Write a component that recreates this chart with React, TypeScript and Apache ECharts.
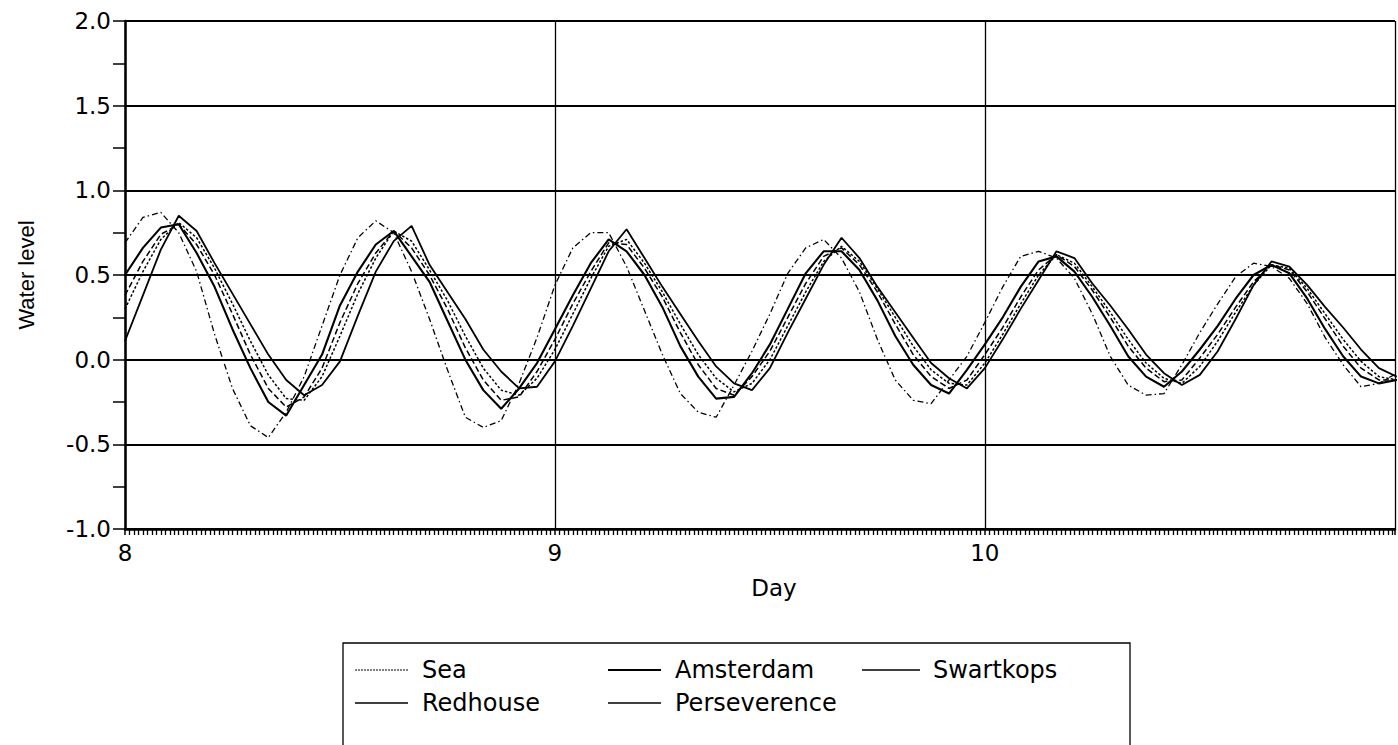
import React, { useEffect, useRef } from "react";
import * as echarts from "echarts";

// Hourly readings, hour 0 = start of day 8
const hours = Array.from({ length: 72 }, (_, i) => i);

const sea = [
  0.69, 0.84, 0.87, 0.75, 0.52, 0.15, -0.17, -0.39, -0.46, -0.31,
  -0.10, 0.20, 0.50, 0.72, 0.82, 0.75, 0.52, 0.24, -0.06, -0.34,
  -0.40, -0.36, -0.14, 0.13, 0.44, 0.66, 0.75, 0.75, 0.55, 0.29,
  0.03, -0.20, -0.31, -0.34, -0.15, 0.05, 0.27, 0.51, 0.66, 0.71,
  0.60, 0.40, 0.12, -0.12, -0.24, -0.26, -0.12, 0.02, 0.22, 0.43,
  0.61, 0.64, 0.60, 0.48, 0.27, 0.02, -0.15, -0.21, -0.20, -0.03,
  0.16, 0.33, 0.49, 0.57, 0.55, 0.48, 0.33, 0.13, -0.03, -0.16,
  -0.14, -0.08,
];

const amsterdam = [
  0.50, 0.66, 0.78, 0.80, 0.63, 0.43, 0.18, -0.05, -0.25, -0.33,
  -0.15, 0.03, 0.32, 0.52, 0.68, 0.76, 0.61, 0.46, 0.23, 0.00,
  -0.18, -0.29, -0.17, -0.02, 0.18, 0.38, 0.57, 0.71, 0.64, 0.50,
  0.31, 0.08, -0.10, -0.23, -0.22, -0.08, 0.09, 0.30, 0.51, 0.64,
  0.64, 0.53, 0.35, 0.14, -0.03, -0.15, -0.20, -0.06, 0.09, 0.25,
  0.43, 0.58, 0.61, 0.52, 0.37, 0.20, 0.02, -0.10, -0.16, -0.07,
  0.06, 0.20, 0.36, 0.50, 0.56, 0.51, 0.36, 0.18, 0.02, -0.10,
  -0.14, -0.12,
];

const swartkops = [
  0.38, 0.58, 0.74, 0.80, 0.68, 0.50, 0.27, 0.03, -0.17, -0.28,
  -0.22, -0.05, 0.22, 0.45, 0.63, 0.76, 0.66, 0.50, 0.30, 0.07,
  -0.12, -0.24, -0.22, -0.07, 0.12, 0.33, 0.52, 0.69, 0.68, 0.54,
  0.37, 0.16, -0.03, -0.17, -0.21, -0.10, 0.05, 0.25, 0.45, 0.61,
  0.66, 0.56, 0.40, 0.21, 0.03, -0.10, -0.17, -0.12, 0.03, 0.19,
  0.37, 0.53, 0.62, 0.55, 0.41, 0.25, 0.08, -0.05, -0.13, -0.12,
  0.01, 0.15, 0.31, 0.46, 0.56, 0.53, 0.40, 0.24, 0.08, -0.05,
  -0.12, -0.12,
];

const redhouse = [
  0.30, 0.52, 0.71, 0.81, 0.72, 0.54, 0.33, 0.11, -0.09, -0.23,
  -0.24, -0.10, 0.14, 0.39, 0.60, 0.76, 0.70, 0.53, 0.35, 0.14,
  -0.05, -0.18, -0.21, -0.11, 0.06, 0.27, 0.48, 0.67, 0.71, 0.57,
  0.40, 0.21, 0.03, -0.11, -0.19, -0.14, 0.00, 0.20, 0.40, 0.58,
  0.67, 0.58, 0.42, 0.25, 0.08, -0.06, -0.14, -0.15, -0.02, 0.15,
  0.33, 0.50, 0.62, 0.57, 0.43, 0.28, 0.12, -0.02, -0.11, -0.14,
  -0.04, 0.11, 0.28, 0.44, 0.56, 0.54, 0.42, 0.27, 0.12, -0.01,
  -0.10, -0.12,
];

const perseverence = [
  0.11, 0.38, 0.65, 0.85, 0.76, 0.57, 0.39, 0.21, 0.03, -0.12,
  -0.21, -0.15, -0.01, 0.26, 0.52, 0.70, 0.79, 0.56, 0.40, 0.24,
  0.06, -0.07, -0.17, -0.16, -0.01, 0.20, 0.42, 0.64, 0.77, 0.60,
  0.43, 0.27, 0.11, -0.04, -0.14, -0.18, -0.05, 0.16, 0.36, 0.56,
  0.72, 0.60, 0.43, 0.28, 0.13, -0.02, -0.11, -0.17, -0.05, 0.12,
  0.30, 0.47, 0.64, 0.60, 0.45, 0.32, 0.18, 0.03, -0.08, -0.15,
  -0.09, 0.05, 0.24, 0.44, 0.58, 0.55, 0.44, 0.31, 0.19, 0.06,
  -0.05, -0.10,
];

const stations = [
  { name: "Sea", values: sea, dash: [6, 3, 1.5, 3] as any, width: 1.3 },
  { name: "Amsterdam", values: amsterdam, dash: "solid" as any, width: 2.1 },
  { name: "Swartkops", values: swartkops, dash: [6, 3] as any, width: 1.5 },
  { name: "Redhouse", values: redhouse, dash: [2.5, 2] as any, width: 1.5 },
  { name: "Perseverence", values: perseverence, dash: "solid" as any, width: 1.8 },
];

const FONT = "'DejaVu Sans', sans-serif";

export default function App() {
  const ref = useRef<HTMLDivElement>(null);

  useEffect(() => {
    if (!ref.current) return;
    const chart = echarts.init(ref.current, null, { renderer: "svg" });

    const series = stations.map((s) => ({
      type: "line",
      name: s.name,
      data: hours.map((h, i) => [8 + h / 24, s.values[i]]),
      showSymbol: false,
      symbol: "none",
      lineStyle: { color: "#000", width: s.width, type: s.dash },
      z: 3,
    }));

    // Legend box drawn as graphics (two rows, three columns)
    const legendCols = [355, 608, 862];
    const legendRows = [670, 703];
    const legendItems: any[] = [];
    stations.forEach((s, i) => {
      const col = legendCols[i % 3];
      const row = legendRows[Math.floor(i / 3)];
      legendItems.push({
        type: "line",
        shape: { x1: col, y1: row, x2: col + (i === 2 ? 58 : 53), y2: row },
        style: {
          stroke: "#000",
          lineWidth: i === 1 ? 2.2 : i === 0 ? 1 : 1.3,
          lineDash: i === 0 ? [2, 1] : null,
        },
      });
      legendItems.push({
        type: "text",
        x: col + (i === 2 ? 71 : 67),
        y: row,
        style: {
          text: s.name,
          font: `24px ${FONT}`,
          fill: "#000",
          textVerticalAlign: "middle",
          verticalAlign: "middle",
        },
      });
    });

    chart.setOption({
      animation: false,
      backgroundColor: "#fff",
      grid: { left: 125, top: 21, right: -3, bottom: 216, containLabel: false },
      xAxis: {
        type: "value",
        min: 8,
        max: 10.954,
        interval: 1,
        name: "Day",
        nameLocation: "middle",
        nameGap: 47,
        nameTextStyle: { fontFamily: FONT, fontSize: 23, color: "#000", padding: [0, 0, 0, 28] },
        axisLine: { show: true, onZero: false, lineStyle: { color: "#000", width: 2.5 } },
        axisTick: { show: true, length: 6, lineStyle: { color: "#000", width: 1.5 } },
        minorTick: { show: true, splitNumber: 96, length: 6, lineStyle: { color: "#000", width: 1.3 } },
        axisLabel: {
          margin: 12,
          fontFamily: FONT,
          fontSize: 23,
          color: "#000",
          formatter: (v: number) => (Math.abs(v - Math.round(v)) < 1e-6 ? String(Math.round(v)) : ""),
        },
        splitLine: { show: true, lineStyle: { color: "#000", width: 1.3 } },
      },
      yAxis: {
        type: "value",
        min: -1,
        max: 2,
        interval: 0.5,
        name: "Water level",
        nameLocation: "middle",
        nameGap: 88,
        nameTextStyle: { fontFamily: "'Liberation Sans', Arial, sans-serif", fontSize: 22, color: "#000" },
        axisLine: { show: true, lineStyle: { color: "#000", width: 2.5 } },
        axisTick: { show: true, length: 12, lineStyle: { color: "#000", width: 1.5 } },
        minorTick: { show: true, splitNumber: 2, length: 12, lineStyle: { color: "#000", width: 1.5 } },
        axisLabel: {
          margin: 14,
          fontFamily: FONT,
          fontSize: 23,
          color: "#000",
          formatter: (v: number) => v.toFixed(1),
        },
        splitLine: { show: true, lineStyle: { color: "#000", width: 1.8 } },
      },
      graphic: [
        {
          type: "rect",
          shape: { x: 343, y: 643, width: 787, height: 120 },
          style: { fill: "none", stroke: "#000", lineWidth: 1.3 },
        },
        ...legendItems,
      ],
      series,
    });

    return () => chart.dispose();
  }, []);

  return (
    <div
      ref={ref}
      style={{ position: "absolute", left: 0, top: 0, width: 1398, height: 745, background: "#fff" }}
    />
  );
}
